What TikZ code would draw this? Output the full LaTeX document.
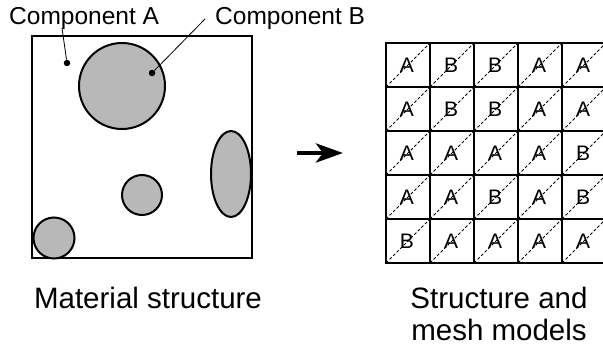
\documentclass[tikz,border=0pt]{standalone}
\usepackage{fontspec}
\setmainfont{Liberation Sans}
\usetikzlibrary{arrows.meta}
\begin{document}
\begin{tikzpicture}[x=1pt,y=-1pt,
  lbl/.style={font=\fontsize{24.5}{28}\selectfont, inner sep=0pt, anchor=base west},
  capt/.style={font=\fontsize{29.5}{31.5}\selectfont, align=center, inner sep=0pt},
  particle/.style={draw=black, line width=2pt, fill=black!28},
  frame/.style={draw=black, line width=2.4pt},
  leader/.style={draw=black, line width=0.8pt},
  pointdot/.style={circle, fill=black, inner sep=0pt, minimum size=6.5pt},
  celltext/.style={font=\fontsize{21}{24}\selectfont, inner sep=0pt},
  diag/.style={line width=0.8pt, dash pattern=on 3pt off 2pt},
  gridline/.style={line width=1.8pt},
  bigarrow/.style={line width=4.5pt, -{Stealth[length=27pt,width=19pt,inset=7pt]}}
]
\useasboundingbox (0,0) rectangle (603,353);

% material structure
\draw[frame] (32,36) rectangle (252,258);
\draw[particle] (122,86) circle[radius=43];
\draw[particle] (231,174) ellipse[x radius=20, y radius=43];
\draw[particle] (142,195) circle[radius=20];
\draw[particle] (54,238) circle[radius=20.5];

\node[pointdot] (dotA) at (67,63) {};
\node[pointdot] (dotB) at (152,73) {};
\node[lbl] (labA) at (9,25) {Component A};
\node[lbl] (labB) at (215,25) {Component B};
\coordinate (legA) at (62,28);
\coordinate (legB) at (205,19);
\draw[leader] (legA) -- (dotA);
\draw[leader] (legB) -- (dotB);

% arrow
\coordinate (arrS) at (297,153);
\coordinate (arrE) at (343,153);
\draw[bigarrow] (arrS) -- (arrE);

% mesh grid
\begin{scope}
\clip (370,30) rectangle (603,280);
\foreach \row [count=\r from 0] in {{A,B,B,A,A},{A,B,B,A,A},{A,A,A,A,B},{A,A,B,A,B},{B,A,A,A,A}}{
  \foreach \L [count=\c from 0] in \row {
    \pgfmathsetmacro{\xo}{386+44*\c}
    \pgfmathsetmacro{\yo}{43+44*\r}
    \draw[diag] (\xo,\yo+44) -- (\xo+44,\yo);
    \node[celltext] (cell-\r-\c) at (\xo+21,\yo+22) {\L};
  }
}
\foreach \i in {1,...,4}{
  \draw[gridline] (386+44*\i,43) -- (386+44*\i,263);
  \draw[gridline] (386,43+44*\i) -- (606,43+44*\i);
}
\draw[line width=2.6pt] (386,43) rectangle (606,263);
\end{scope}

% captions
\node[capt, anchor=base] (capL) at (148,308) {Material structure};
\node[capt, anchor=north] (capR) at (499,287) {Structure and\\mesh models};
\end{tikzpicture}
\end{document}
